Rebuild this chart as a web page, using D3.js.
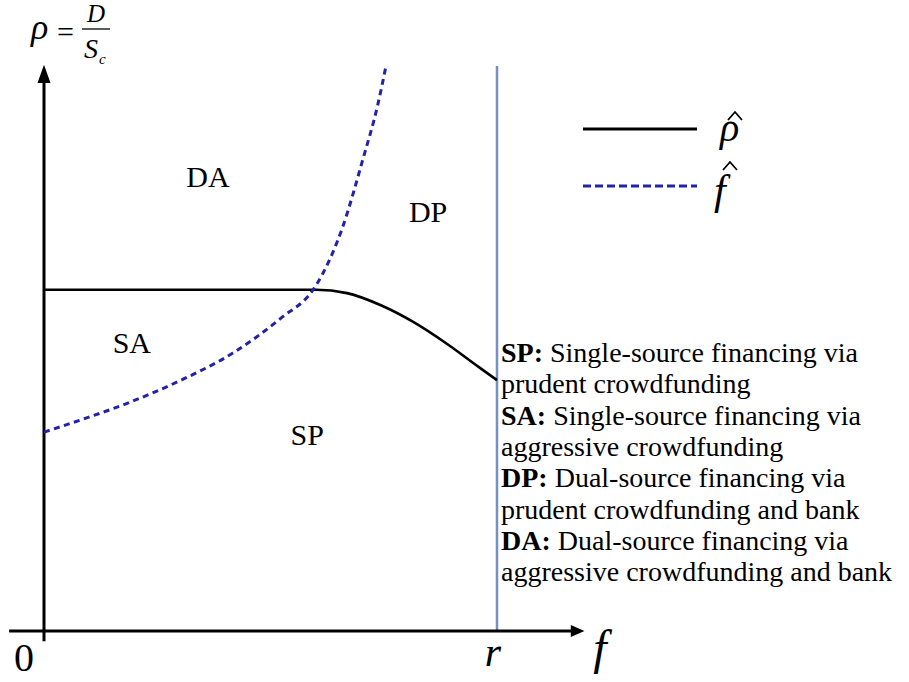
<!DOCTYPE html>
<html>
<head>
<meta charset="utf-8">
<script src="https://cdn.jsdelivr.net/npm/d3@7"></script>
<style>
  html, body { margin: 0; padding: 0; background: #fff; }
  svg { display: block; }
  text { font-family: "Liberation Serif", "Times New Roman", serif; fill: #000; }
</style>
</head>
<body>
<svg id="chart" width="909" height="682"></svg>
<script>
// Threshold curve rho-hat (f, rho)
const rhoHat = [
  [0.00, 0.604], [0.60, 0.604], [0.669, 0.598], [0.745, 0.576],
  [0.815, 0.547], [0.890, 0.508], [0.960, 0.467], [1.00, 0.444]
];
// Threshold curve f-hat (f, rho)
const fHat = [
  [0.00, 0.352], [0.079, 0.373], [0.190, 0.405], [0.300, 0.443],
  [0.417, 0.492], [0.525, 0.555], [0.594, 0.604], [0.615, 0.632],
  [0.658, 0.712], [0.704, 0.835], [0.737, 0.932], [0.755, 1.000]
];
// Region labels placed at (f, rho)
const regions = [
  { name: "DA", f: 0.362, rho: 0.804 },
  { name: "DP", f: 0.848, rho: 0.743 },
  { name: "SA", f: 0.194, rho: 0.510 },
  { name: "SP", f: 0.581, rho: 0.347 }
];
// Explanation of the region abbreviations
const notes = [
  { key: "SP:", lines: ["Single-source financing via", "prudent crowdfunding"] },
  { key: "SA:", lines: ["Single-source financing via", "aggressive crowdfunding"] },
  { key: "DP:", lines: ["Dual-source financing via", "prudent crowdfunding and bank"] },
  { key: "DA:", lines: ["Dual-source financing via", "aggressive crowdfunding and bank"] }
];
const rValue = 1.0;

const svg = d3.select("#chart");
const x = d3.scaleLinear().domain([0, 1]).range([44, 497]);
const y = d3.scaleLinear().domain([0, 1]).range([631, 66]);

const blue = "#2222aa";

// boundary f = r
svg.append("line")
  .attr("x1", x(rValue)).attr("x2", x(rValue))
  .attr("y1", y(0)).attr("y2", y(1))
  .attr("stroke", "#7591bf").attr("stroke-width", 2.5);

// axes
const g = svg.append("g");
g.append("line")
  .attr("x1", x(0)).attr("x2", x(0))
  .attr("y1", y(-0.018)).attr("y2", y(0.975))
  .attr("stroke", "#000").attr("stroke-width", 3);
g.append("path")
  .attr("d", `M${x(0)},${y(1.002)} L${x(0) - 6.5},${y(0.97)} L${x(0) + 6.5},${y(0.97)} Z`)
  .attr("fill", "#000");
g.append("line")
  .attr("x1", x(-0.077)).attr("x2", x(1.17))
  .attr("y1", y(0)).attr("y2", y(0))
  .attr("stroke", "#000").attr("stroke-width", 3);
g.append("path")
  .attr("d", `M${x(1.193)},${y(0)} L${x(1.163)},${y(0) - 6} L${x(1.163)},${y(0) + 6} Z`)
  .attr("fill", "#000");

// curves
svg.append("path")
  .datum(rhoHat)
  .attr("d", d3.line().x(d => x(d[0])).y(d => y(d[1])).curve(d3.curveMonotoneX))
  .attr("fill", "none").attr("stroke", "#000").attr("stroke-width", 2.6);
svg.append("path")
  .datum(fHat)
  .attr("d", d3.line().x(d => x(d[0])).y(d => y(d[1])).curve(d3.curveMonotoneX))
  .attr("fill", "none").attr("stroke", blue).attr("stroke-width", 3)
  .attr("stroke-dasharray", "6,4.5");

// region labels
svg.selectAll("text.region")
  .data(regions).join("text")
  .attr("class", "region")
  .attr("x", d => x(d.f)).attr("y", d => y(d.rho))
  .attr("text-anchor", "middle")
  .attr("dominant-baseline", "central")
  .attr("font-size", 30)
  .text(d => d.name);

// axis labels
svg.append("text").attr("x", 24).attr("y", 671)
  .attr("text-anchor", "middle").attr("font-size", 40).text("0");
svg.append("text").attr("x", x(rValue) - 4).attr("y", 666)
  .attr("text-anchor", "middle").attr("font-size", 42).attr("font-style", "italic").text("r");
svg.append("text").attr("x", 600).attr("y", 664)
  .attr("text-anchor", "middle").attr("font-size", 48).attr("font-style", "italic").text("f");

// y-axis label rho = D / S_c
const yl = svg.append("g");
yl.append("text").attr("x", 31).attr("y", 39).attr("font-size", 36).attr("font-style", "italic").text("ρ");
yl.append("text").attr("x", 57).attr("y", 42).attr("font-size", 30).text("=");
yl.append("line").attr("x1", 82).attr("x2", 110).attr("y1", 29).attr("y2", 29)
  .attr("stroke", "#000").attr("stroke-width", 1.3);
yl.append("text").attr("x", 96).attr("y", 22).attr("text-anchor", "middle")
  .attr("font-size", 25).attr("font-style", "italic").text("D");
yl.append("text").attr("x", 84).attr("y", 58)
  .attr("font-size", 28).attr("font-style", "italic").text("S");
yl.append("text").attr("x", 99).attr("y", 64)
  .attr("font-size", 15).attr("font-style", "italic").text("c");

// legend
const lg = svg.append("g");
lg.append("line").attr("x1", 583).attr("x2", 697).attr("y1", 129).attr("y2", 129)
  .attr("stroke", "#000").attr("stroke-width", 3);
lg.append("line").attr("x1", 583).attr("x2", 697).attr("y1", 186).attr("y2", 186)
  .attr("stroke", blue).attr("stroke-width", 3).attr("stroke-dasharray", "8,4");
lg.append("text").attr("x", 720).attr("y", 141).attr("font-size", 40).attr("font-style", "italic").text("ρ");
lg.append("text").attr("x", 714).attr("y", 204).attr("font-size", 42).attr("font-style", "italic").text("f");
// circumflex accents over the legend symbols
const hat = (cx, cy) => `M${cx - 7},${cy + 8} L${cx},${cy} L${cx + 7},${cy + 8}`;
lg.append("path").attr("d", hat(735, 112)).attr("fill", "none").attr("stroke", "#000").attr("stroke-width", 1.8);
lg.append("path").attr("d", hat(730, 162)).attr("fill", "none").attr("stroke", "#000").attr("stroke-width", 1.8);

// notes
const nt = svg.append("g");
let row = 0;
notes.forEach(n => {
  n.lines.forEach((ln, i) => {
    const t = nt.append("text").attr("x", 501).attr("y", 362 + row * 31.3).attr("font-size", 28);
    if (i === 0) {
      t.append("tspan").attr("font-weight", "bold").text(n.key);
      t.append("tspan").text(" " + ln);
    } else {
      t.text(ln);
    }
    row++;
  });
});
</script>
</body>
</html>
